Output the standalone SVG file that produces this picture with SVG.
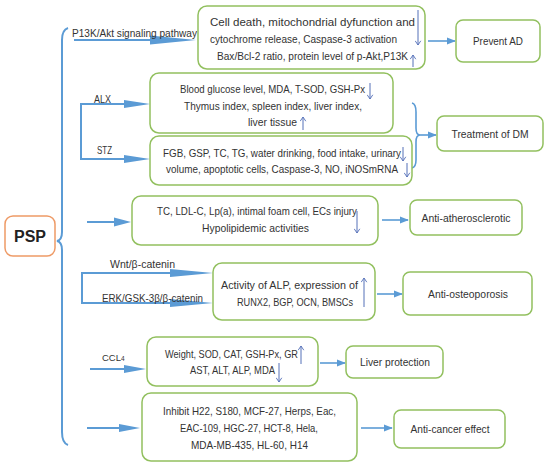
<svg xmlns="http://www.w3.org/2000/svg" width="550" height="467" viewBox="0 0 550 467">
<defs>
<marker id="ah" viewBox="0 0 10 10" refX="9" refY="5" markerWidth="9" markerHeight="9" markerUnits="userSpaceOnUse" orient="auto"><path d="M0,1 L10,5 L0,9 Z" fill="#5B9BD5"/></marker>
<marker id="ud" viewBox="0 0 10 10" refX="9" refY="5" markerWidth="7" markerHeight="7" markerUnits="userSpaceOnUse" orient="auto"><path d="M3,1 L9,5 L3,9" fill="none" stroke="#5470B8" stroke-width="1.3"/></marker>
</defs>
<style>
.bx{fill:#fff;stroke:#92C05F;stroke-width:1.5}
.t{font-family:"Liberation Sans",Arial,sans-serif;font-size:11px;fill:#333}
.c{text-anchor:middle}
.ln{fill:none;stroke:#5B9BD5;stroke-width:2}
.sa{fill:none;stroke:#5B9BD5;stroke-width:1.6}
.ua{fill:none;stroke:#5470B8;stroke-width:1}
.hd{fill:#5B9BD5}
</style>
<rect width="550" height="467" fill="#fff"/>
<g id="connectors">
<path class="ln" d="M68,28 Q62,30 62,40 L62,232 Q62,240 57,241 Q62,242 62,250 L62,432 Q62,443 68,445" stroke-width="2.5"/>
<path class="ln" d="M74,40 L152,40"/><polygon class="hd" points="150,35.5 196,40 150,44.5"/>
<path class="ln" d="M126,104 L81,104 L81,159 L126,159"/>
<polygon class="hd" points="124,100 150,104 124,108"/><polygon class="hd" points="124,155 150,159 124,163"/>
<path class="ln" d="M87,222 L116,222"/><polygon class="hd" points="114,217.5 131,222 114,226.5"/>
<path class="ln" d="M172,273 L82,273 L82,303 L172,303"/>
<polygon class="hd" points="170,269 213,273 170,277"/><polygon class="hd" points="170,299 213,303 170,307"/>
<path class="ln" d="M90,369 L126,369"/><polygon class="hd" points="124,365 146,369 124,373"/>
<path class="ln" d="M87,428 L121,428"/><polygon class="hd" points="119,424 140,428 119,432"/>
<path class="sa" d="M412,103 Q416,104 416,112 L416,128 Q416,135 420,135 Q416,135 416,142 L416,160 Q416,167 412,168"/>
<path class="sa" marker-end="url(#ah)" d="M428,41 L455,41"/>
<path class="sa" marker-end="url(#ah)" d="M420,135 L436,135"/>
<path class="sa" marker-end="url(#ah)" d="M382,220 L408,220"/>
<path class="sa" marker-end="url(#ah)" d="M377,294 L402,294"/>
<path class="sa" marker-end="url(#ah)" d="M320,363 L345,363"/>
<path class="sa" marker-end="url(#ah)" d="M361,428 L392,428"/>
</g>
<g id="labels">
<text class="t" x="72" y="37" textLength="125" lengthAdjust="spacingAndGlyphs">P13K/Akt signaling pathway</text>
<text class="t" x="94" y="103" textLength="17" lengthAdjust="spacingAndGlyphs">ALX</text>
<text class="t" x="97" y="154" textLength="15" lengthAdjust="spacingAndGlyphs">STZ</text>
<text class="t" x="110" y="268" textLength="65" lengthAdjust="spacingAndGlyphs">Wnt/β-catenin</text>
<text class="t" x="102" y="302" textLength="101" lengthAdjust="spacingAndGlyphs">ERK/GSK-3β/β-catenin</text>
<text class="t" x="102" y="361" style="font-size:9.5px">CCL<tspan style="font-size:6.5px">4</tspan></text>
</g>
<g id="psp">
<rect x="5" y="216" width="50" height="40" rx="8" fill="#fff" stroke="#EE9A66" stroke-width="1.5"/>
<text x="30" y="242" text-anchor="middle" font-family="'Liberation Sans',Arial,sans-serif" font-size="16" font-weight="bold" fill="#222">PSP</text>
</g>
<g id="box-ad">
<rect class="bx" x="198" y="6" width="227" height="63" rx="9"/>
<text class="t" x="210" y="26" textLength="205" lengthAdjust="spacingAndGlyphs">Cell death, mitochondrial dyfunction and</text>
<text class="t" x="210" y="43" textLength="187" lengthAdjust="spacingAndGlyphs">cytochrome release, Caspase-3 activation</text>
<text class="t" x="217" y="60" textLength="191" lengthAdjust="spacingAndGlyphs">Bax/Bcl-2 ratio, protein level of p-Akt,P13K</text>
<path class="ua" marker-end="url(#ud)" d="M418,10 L418,45"/>
<path class="ua" marker-end="url(#ud)" d="M413,67 L413,55"/>
</g>
<g id="prevent-ad"><rect class="bx" x="456" y="20" width="84" height="42" rx="7"/><text class="t c" x="498" y="45" textLength="50" lengthAdjust="spacingAndGlyphs">Prevent AD</text></g>
<g id="box-alx">
<rect class="bx" x="150" y="73" width="243" height="60" rx="9"/>
<text class="t" x="180" y="93" textLength="185" lengthAdjust="spacingAndGlyphs">Blood glucose level, MDA, T-SOD, GSH-Px</text>
<text class="t" x="184" y="110" textLength="178" lengthAdjust="spacingAndGlyphs">Thymus index, spleen index, liver index,</text>
<text class="t" x="248" y="126" textLength="49" lengthAdjust="spacingAndGlyphs">liver tissue</text>
<path class="ua" marker-end="url(#ud)" d="M370,83 L370,99"/>
<path class="ua" marker-end="url(#ud)" d="M303,130 L303,117"/>
</g>
<g id="box-stz">
<rect class="bx" x="150" y="136" width="262" height="49" rx="9"/>
<text class="t" x="163" y="157" textLength="238" lengthAdjust="spacingAndGlyphs">FGB, GSP, TC, TG, water drinking, food intake, urinary</text>
<text class="t" x="166" y="173" textLength="232" lengthAdjust="spacingAndGlyphs">volume, apoptotic cells, Caspase-3, NO, iNOSmRNA</text>
<path class="ua" marker-end="url(#ud)" d="M403,147 L403,161"/>
<path class="ua" marker-end="url(#ud)" d="M407,163 L407,177"/>
</g>
<g id="treat-dm"><rect class="bx" x="437" y="116" width="106" height="35" rx="7"/><text class="t c" x="490" y="138" textLength="77" lengthAdjust="spacingAndGlyphs">Treatment of DM</text></g>
<g id="box-athero">
<rect class="bx" x="132" y="196" width="246" height="49" rx="9"/>
<text class="t" x="157" y="215" textLength="200" lengthAdjust="spacingAndGlyphs">TC, LDL-C, Lp(a), intimal foam cell, ECs injury</text>
<text class="t" x="202" y="232" textLength="107" lengthAdjust="spacingAndGlyphs">Hypolipidemic activities</text>
<path class="ua" marker-end="url(#ud)" d="M357,211 L357,233"/>
</g>
<g id="anti-athero"><rect class="bx" x="410" y="200" width="112" height="35" rx="7"/><text class="t c" x="466" y="222" textLength="89" lengthAdjust="spacingAndGlyphs">Anti-atherosclerotic</text></g>
<g id="box-osteo">
<rect class="bx" x="213" y="263" width="162" height="57" rx="9"/>
<text class="t" x="221" y="289" textLength="137" lengthAdjust="spacingAndGlyphs">Activity of ALP, expression of</text>
<text class="t" x="237" y="306" textLength="116" lengthAdjust="spacingAndGlyphs">RUNX2, BGP, OCN, BMSCs</text>
<path class="ua" marker-end="url(#ud)" d="M364,307 L364,278"/>
</g>
<g id="anti-osteo"><rect class="bx" x="403" y="272" width="129" height="43" rx="7"/><text class="t c" x="468" y="298" textLength="80" lengthAdjust="spacingAndGlyphs">Anti-osteoporosis</text></g>
<g id="box-liver">
<rect class="bx" x="147" y="337" width="171" height="49" rx="9"/>
<text class="t" x="165" y="358" textLength="133" lengthAdjust="spacingAndGlyphs">Weight, SOD, CAT, GSH-Px, GR</text>
<text class="t" x="190" y="374" textLength="85" lengthAdjust="spacingAndGlyphs">AST, ALT, ALP, MDA</text>
<path class="ua" marker-end="url(#ud)" d="M301,364 L301,346"/>
<path class="ua" marker-end="url(#ud)" d="M279,363 L279,382"/>
</g>
<g id="liver-protection"><rect class="bx" x="346" y="346" width="97" height="32" rx="7"/><text class="t c" x="395" y="366" textLength="70" lengthAdjust="spacingAndGlyphs">Liver protection</text></g>
<g id="box-cancer">
<rect class="bx" x="142" y="393" width="215" height="68" rx="9"/>
<text class="t" x="163" y="415" textLength="173" lengthAdjust="spacingAndGlyphs">Inhibit H22, S180, MCF-27, Herps, Eac,</text>
<text class="t" x="180" y="432" textLength="138" lengthAdjust="spacingAndGlyphs">EAC-109, HGC-27, HCT-8, Hela,</text>
<text class="t" x="191" y="449" textLength="117" lengthAdjust="spacingAndGlyphs">MDA-MB-435, HL-60, H14</text>
</g>
<g id="anti-cancer"><rect class="bx" x="394" y="410" width="111" height="38" rx="7"/><text class="t c" x="450" y="433" textLength="79" lengthAdjust="spacingAndGlyphs">Anti-cancer effect</text></g>
</svg>
